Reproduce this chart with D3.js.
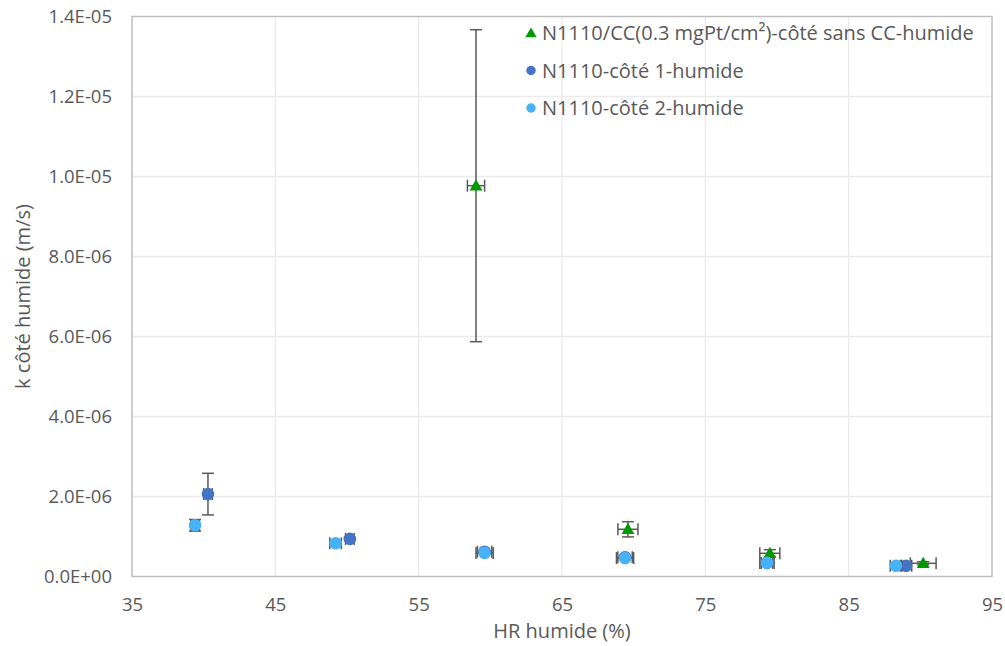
<!DOCTYPE html>
<html lang="fr">
<head>
<meta charset="utf-8">
<script src="https://cdn.jsdelivr.net/npm/d3@7"></script>
<style>
  body { margin: 0; background: #fff; }
  svg text { font-family: "Open Sans", "Noto Sans", sans-serif; fill: #595959; }
</style>
</head>
<body>
<div id="chart"></div>
<script>
// series: HR humide (%), k (m/s), x error, y error
const seriesNames = [
  "N1110/CC(0.3 mgPt/cm²)-côté sans CC-humide",
  "N1110-côté 1-humide",
  "N1110-côté 2-humide"
]
const seriesColors = ["#009A00", "#4472C4", "#47B1FA"]

const ccX    = [59.0, 69.6, 79.5, 90.2]
const ccY    = [9.77e-6, 1.18e-6, 5.8e-7, 3.3e-7]
const ccXErr = [0.6, 0.7, 0.7, 0.9]
const ccYErr = [3.9e-6, 1.9e-7, 9e-8, 4e-8]

const s1X    = [40.3, 50.2, 59.6, 69.4, 79.3, 89.0]
const s1Y    = [2.06e-6, 9.4e-7, 6.2e-7, 4.8e-7, 3.4e-7, 2.7e-7]
const s1XErr = [0.3, 0.3, 0.5, 0.5, 0.4, 0.4]
const s1YErr = [5.2e-7, 4e-8, 3e-8, 3e-8, 3e-8, 2e-8]

const s2X    = [39.4, 49.2, 59.6, 69.4, 79.3, 88.3]
const s2Y    = [1.28e-6, 8.3e-7, 5.9e-7, 4.6e-7, 3.4e-7, 2.7e-7]
const s2XErr = [0.3, 0.4, 0.6, 0.6, 0.5, 0.4]
const s2YErr = [1.45e-7, 5e-8, 3e-8, 3e-8, 3e-8, 2e-8]

const xTicks = [35, 45, 55, 65, 75, 85, 95]
const yTicks = [0, 2e-6, 4e-6, 6e-6, 8e-6, 1e-5, 1.2e-5, 1.4e-5]

const w = 1005, h = 646
const padL = 132, padR = 992, padT = 16.5, padB = 576.5

const svg = d3.select('#chart').append('svg')
  .attr('width', w).attr('height', h)

const scaleX = d3.scaleLinear().domain([35, 95]).range([padL, padR])
const scaleY = d3.scaleLinear().domain([0, 1.4e-5]).range([padB, padT])

// gridlines
svg.append('g').selectAll('line')
  .data(xTicks.slice(1, -1))
  .enter().append('line')
  .attr('x1', d => scaleX(d)).attr('x2', d => scaleX(d))
  .attr('y1', padT).attr('y2', padB)
  .attr('stroke', '#ebebeb').attr('stroke-width', 1.3)

svg.append('g').selectAll('line')
  .data(yTicks.slice(1, -1))
  .enter().append('line')
  .attr('x1', padL).attr('x2', padR)
  .attr('y1', d => scaleY(d)).attr('y2', d => scaleY(d))
  .attr('stroke', '#ebebeb').attr('stroke-width', 1.3)

svg.append('rect')
  .attr('x', padL).attr('y', padT)
  .attr('width', padR - padL).attr('height', padB - padT)
  .attr('fill', 'none').attr('stroke', '#bfbfbf').attr('stroke-width', 1.5)

// axes (labels only)
const yAxis = d3.axisLeft(scaleY).tickValues(yTicks).tickSize(0).tickPadding(20)
  .tickFormat(d => {
    if (d === 0) return '0.0E+00'
    const exp = Math.floor(Math.log10(d) + 1e-9)
    const m = d / Math.pow(10, exp)
    return m.toFixed(1) + 'E-' + String(-exp).padStart(2, '0')
  })
const gy = svg.append('g').attr('transform', 'translate(' + padL + ',0)').call(yAxis)
gy.select('.domain').remove()
gy.selectAll('text').style('font-size', '18.5px').attr('dy', '0.35em')

const xAxis = d3.axisBottom(scaleX).tickValues(xTicks).tickSize(0)
const gx = svg.append('g').attr('transform', 'translate(0,' + padB + ')').call(xAxis)
gx.select('.domain').remove()
gx.selectAll('text').style('font-size', '18.5px').attr('y', 28).attr('dy', '0.35em')

svg.append('text')
  .attr('x', (padL + padR) / 2).attr('y', 631).attr('dy', '0.35em')
  .attr('text-anchor', 'middle').style('font-size', '20px')
  .text('HR humide (%)')

svg.append('text')
  .attr('transform', 'translate(23,' + ((padT + padB) / 2) + ') rotate(-90)')
  .attr('dy', '0.35em')
  .attr('text-anchor', 'middle').style('font-size', '20px')
  .text('k côté humide (m/s)')

// data
const series = [
  { x: ccX, y: ccY, ex: ccXErr, ey: ccYErr, shape: 'triangle' },
  { x: s1X, y: s1Y, ex: s1XErr, ey: s1YErr, shape: 'circle' },
  { x: s2X, y: s2Y, ex: s2XErr, ey: s2YErr, shape: 'circle' }
]

const cap = 6
series.forEach((s, si) => {
  const pts = s.x.map((x, i) => ({ x: x, y: s.y[i], ex: s.ex[i], ey: s.ey[i] }))
  const g = svg.append('g')
  const eb = g.selectAll('g').data(pts).enter().append('g')
    .attr('stroke', '#595959').attr('stroke-width', 1.5)
  // vertical bars
  eb.append('line')
    .attr('x1', d => scaleX(d.x)).attr('x2', d => scaleX(d.x))
    .attr('y1', d => scaleY(d.y - d.ey)).attr('y2', d => scaleY(d.y + d.ey))
  eb.append('line')
    .attr('x1', d => scaleX(d.x) - cap).attr('x2', d => scaleX(d.x) + cap)
    .attr('y1', d => scaleY(d.y + d.ey)).attr('y2', d => scaleY(d.y + d.ey))
  eb.append('line')
    .attr('x1', d => scaleX(d.x) - cap).attr('x2', d => scaleX(d.x) + cap)
    .attr('y1', d => scaleY(d.y - d.ey)).attr('y2', d => scaleY(d.y - d.ey))
  // horizontal bars
  eb.append('line')
    .attr('x1', d => scaleX(d.x - d.ex)).attr('x2', d => scaleX(d.x + d.ex))
    .attr('y1', d => scaleY(d.y)).attr('y2', d => scaleY(d.y))
  eb.append('line')
    .attr('x1', d => scaleX(d.x - d.ex)).attr('x2', d => scaleX(d.x - d.ex))
    .attr('y1', d => scaleY(d.y) - cap).attr('y2', d => scaleY(d.y) + cap)
  eb.append('line')
    .attr('x1', d => scaleX(d.x + d.ex)).attr('x2', d => scaleX(d.x + d.ex))
    .attr('y1', d => scaleY(d.y) - cap).attr('y2', d => scaleY(d.y) + cap)

  const symType = s.shape === 'triangle' ? d3.symbolTriangle : d3.symbolCircle
  const size = s.shape === 'triangle' ? 72 : 125
  g.selectAll('path').data(pts).enter().append('path')
    .attr('d', d3.symbol().type(symType).size(size))
    .attr('transform', d => 'translate(' + scaleX(d.x) + ',' + (scaleY(d.y) + (s.shape === 'triangle' ? 1 : 0)) + ')')
    .attr('fill', seriesColors[si])
})

// legend
const legend = svg.append('g')
seriesNames.forEach((name, i) => {
  const ly = 33 + i * 37.5
  legend.append('path')
    .attr('d', d3.symbol().type(i === 0 ? d3.symbolTriangle : d3.symbolCircle).size(i === 0 ? 55 : 70))
    .attr('transform', 'translate(531,' + (ly + (i === 0 ? 1 : 0)) + ')')
    .attr('fill', seriesColors[i])
  legend.append('text')
    .attr('x', 542).attr('y', ly).attr('dy', '0.35em')
    .style('font-size', '20px')
    .text(name)
})
</script>
</body>
</html>
